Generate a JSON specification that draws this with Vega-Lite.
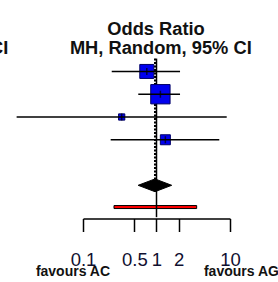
{
  "$schema": "https://vega.github.io/schema/vega-lite/v6.json",
  "width": 278,
  "height": 282,
  "autosize": {"type": "none"},
  "padding": 0,
  "background": "white",
  "config": {
    "view": {"stroke": null},
    "axisX": {
      "domainColor": "black", "domainWidth": 1.5,
      "tickColor": "black", "tickWidth": 1.5, "tickSize": 13,
      "labelFont": "Liberation Sans", "labelFontSize": 18.5, "labelColor": "#101030",
      "labelPadding": 19, "grid": false, "labelFlush": false, "labelOverlap": false
    }
  },
  "datasets": {
    "studies": [
      {"study": "1", "pos": 0, "or": 0.738, "lo": 0.246, "hi": 2.09, "weight": 27.7},
      {"study": "2", "pos": 1, "or": 1.13, "lo": 0.565, "hi": 2.09, "weight": 52.7},
      {"study": "3", "pos": 2, "or": 0.336, "lo": 0.0125, "hi": 9.02, "weight": 5.5},
      {"study": "4", "pos": 3, "or": 1.32, "lo": 0.238, "hi": 7.15, "weight": 14.1}
    ],
    "diamond": [
      {"or": 0.563, "pos": 5, "pos2": 5},
      {"or": 0.954, "pos": 4.72, "pos2": 5.28},
      {"or": 1.61, "pos": 5, "pos2": 5}
    ],
    "pi": [{"lo": 0.264, "hi": 3.52, "pos": 5.955}],
    "nullline": [{"or": 1, "from": -0.566, "to": 6.4}],
    "pooledline": [{"or": 0.954, "from": -0.566, "to": 5}],
    "titles": [
      {"txt": "Odds Ratio", "or": 0.985, "pos": -1.584},
      {"txt": "MH, Random, 95% CI", "or": 1.144, "pos": -0.769}
    ],
    "lefttitle": [{"txt": "95% CI", "or": 0.00963, "pos": -0.769}],
    "favours": [
      {"txt": "favours AC", "or": 0.073, "pos": 8.99},
      {"txt": "favours AG", "or": 14.3, "pos": 8.99}
    ]
  },
  "layer": [
    {
      "data": {"name": "pi"},
      "mark": {"type": "bar", "size": 3, "color": "#ff0000", "stroke": "black", "strokeWidth": 1},
      "encoding": {
        "x": {"field": "lo", "type": "quantitative", "title": null,
              "scale": {"type": "log", "domain": [0.1, 10], "range": [83, 230], "nice": false},
              "axis": {"values": [0.1, 0.5, 1, 2, 10], "format": "~g", "offset": -63.5, "orient": "bottom", "title": null}},
        "x2": {"field": "hi"},
        "y": {"field": "pos", "type": "quantitative", "axis": null,
              "scale": {"domain": [0, 10], "range": [66.45, 304.15], "zero": false, "nice": false}}
      }
    },
    {
      "data": {"name": "nullline"},
      "mark": {"type": "rule", "color": "black", "strokeWidth": 1.5},
      "encoding": {
        "x": {"field": "or", "type": "quantitative", "title": null},
        "y": {"field": "from", "type": "quantitative", "axis": null},
        "y2": {"field": "to"}
      }
    },
    {
      "data": {"name": "pooledline"},
      "mark": {"type": "rule", "color": "black", "strokeWidth": 2, "strokeDash": [2, 1.5]},
      "encoding": {
        "x": {"field": "or", "type": "quantitative", "title": null},
        "y": {"field": "from", "type": "quantitative", "axis": null},
        "y2": {"field": "to"}
      }
    },
    {
      "data": {"name": "diamond"},
      "mark": {"type": "area", "color": "black", "stroke": "black", "strokeWidth": 1, "orient": "vertical"},
      "encoding": {
        "x": {"field": "or", "type": "quantitative", "title": null},
        "y": {"field": "pos", "type": "quantitative", "axis": null},
        "y2": {"field": "pos2"}
      }
    },
    {
      "data": {"name": "studies"},
      "mark": {"type": "point", "shape": "square", "filled": true, "color": "#0000ee", "stroke": "#000066", "strokeWidth": 1, "opacity": 1},
      "encoding": {
        "x": {"field": "or", "type": "quantitative", "title": null},
        "y": {"field": "pos", "type": "quantitative", "axis": null},
        "size": {"field": "weight", "type": "quantitative", "legend": null,
                 "scale": {"type": "linear", "domain": [0, 100], "range": [0, 710], "zero": true}}
      }
    },
    {
      "data": {"name": "studies"},
      "mark": {"type": "rule", "color": "black", "strokeWidth": 1.5},
      "encoding": {
        "x": {"field": "lo", "type": "quantitative", "title": null},
        "x2": {"field": "hi"},
        "y": {"field": "pos", "type": "quantitative", "axis": null}
      }
    },
    {
      "data": {"name": "studies"},
      "mark": {"type": "tick", "orient": "vertical", "size": 7, "thickness": 1.5, "color": "black"},
      "encoding": {
        "x": {"field": "or", "type": "quantitative", "title": null},
        "y": {"field": "pos", "type": "quantitative", "axis": null}
      }
    },
    {
      "data": {"name": "titles"},
      "mark": {"type": "text", "font": "Liberation Sans", "fontWeight": "bold", "fontSize": 18.3, "align": "center", "baseline": "alphabetic", "color": "#111111"},
      "encoding": {
        "x": {"field": "or", "type": "quantitative", "title": null},
        "y": {"field": "pos", "type": "quantitative", "axis": null},
        "text": {"field": "txt"}
      }
    },
    {
      "data": {"name": "lefttitle"},
      "mark": {"type": "text", "font": "Liberation Sans", "fontWeight": "bold", "fontSize": 18.3, "align": "right", "baseline": "alphabetic", "color": "#111111"},
      "encoding": {
        "x": {"field": "or", "type": "quantitative", "title": null},
        "y": {"field": "pos", "type": "quantitative", "axis": null},
        "text": {"field": "txt"}
      }
    },
    {
      "data": {"name": "favours"},
      "mark": {"type": "text", "font": "Liberation Sans", "fontWeight": "bold", "fontSize": 14, "align": "center", "baseline": "alphabetic", "color": "#111111"},
      "encoding": {
        "x": {"field": "or", "type": "quantitative", "title": null},
        "y": {"field": "pos", "type": "quantitative", "axis": null},
        "text": {"field": "txt"}
      }
    }
  ]
}
